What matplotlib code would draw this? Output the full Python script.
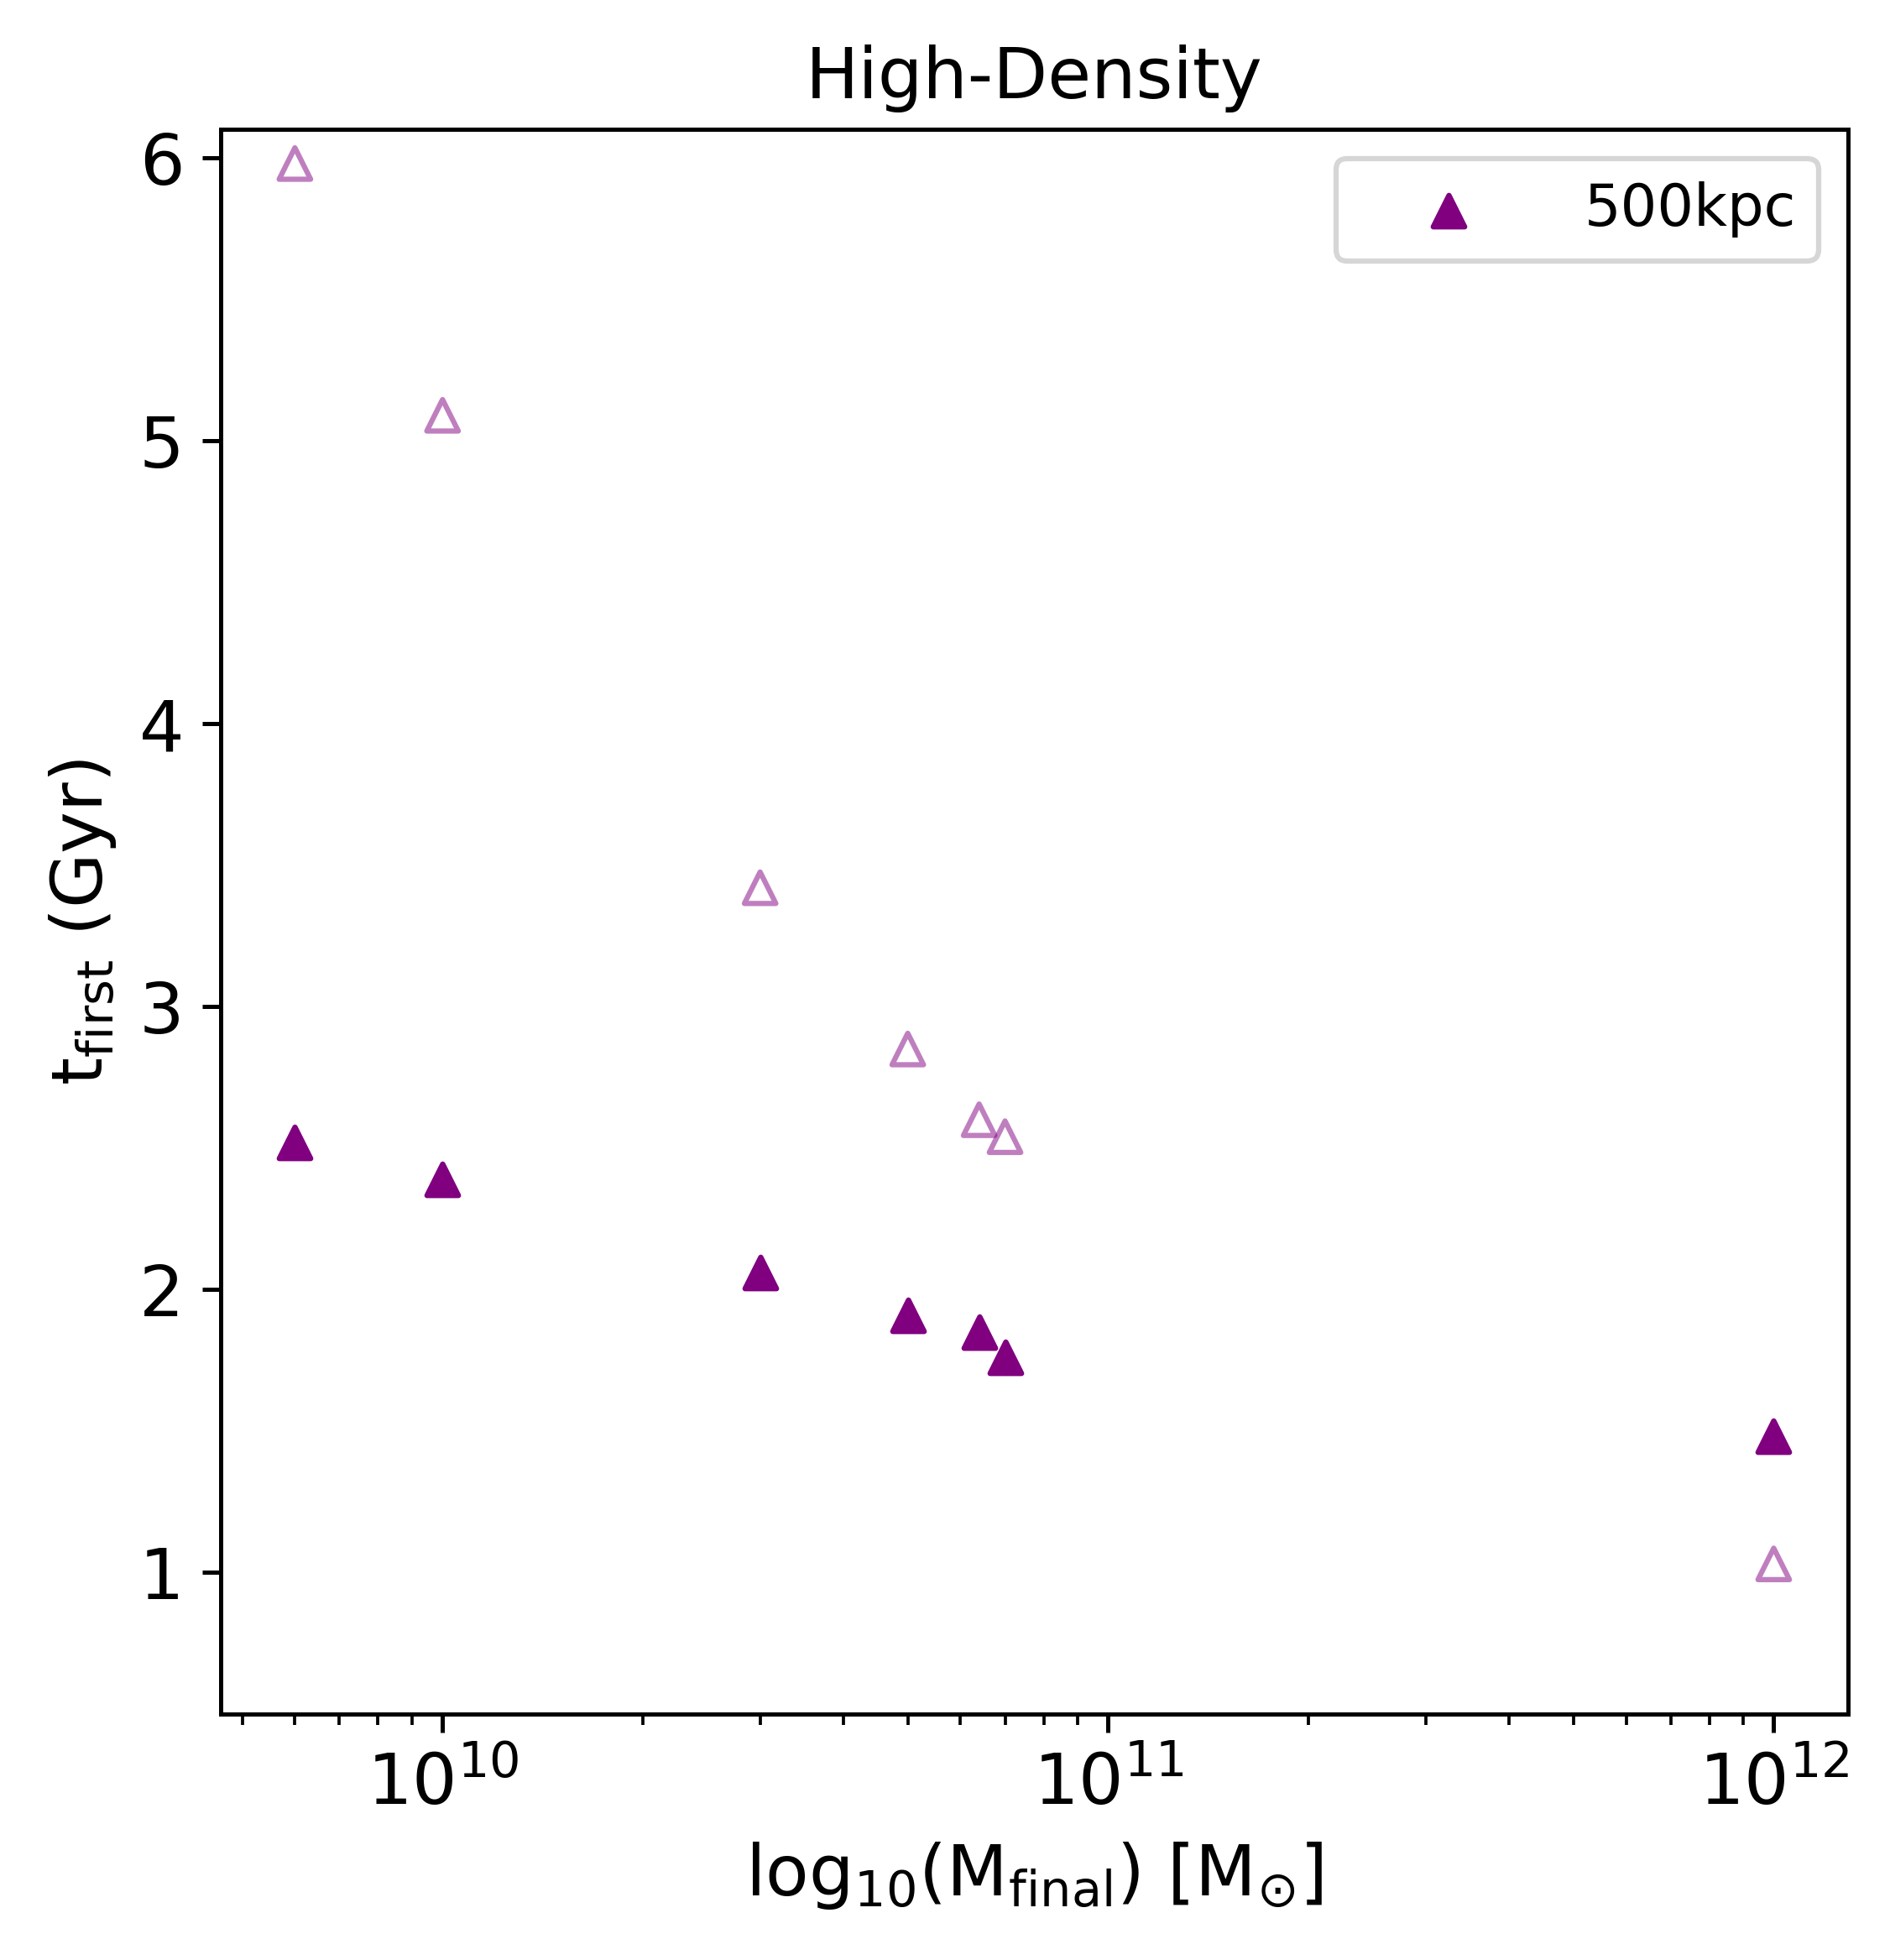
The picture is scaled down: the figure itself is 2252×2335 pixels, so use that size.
import numpy as np
import matplotlib
matplotlib.use('Agg')
import matplotlib.pyplot as plt

# halo final masses (Msun)
m_final = [6e9, 1e10, 3e10, 5e10, 6.4e10, 7e10, 1e12]
# first infall time, 500 kpc (filled) and the open markers
t_first_500 = [2.52, 2.39, 2.06, 1.91, 1.85, 1.76, 1.48]
t_first_open = [5.98, 5.09, 3.42, 2.85, 2.60, 2.54, 1.03]

fs = 13.5
fig = plt.figure(figsize=(2252/450, 2335/450), dpi=450)
ax = fig.add_axes([0.1169, 0.1256, 0.8607, 0.8083])

ax.scatter(m_final, t_first_open, marker='^', facecolors='none',
           edgecolors='purple', alpha=0.5, linewidths=1.0)
ax.scatter(m_final, t_first_500, marker='^', color='purple', label='500kpc')

ax.set_xscale('log')
ax.set_ylim(0.5, 6.1)
ax.set_xlabel(r'log$_{10}$(M$_{\mathrm{final}}$) [M$_{\odot}$]', fontsize=fs)
ax.set_ylabel(r't$_{\mathrm{first}}$ (Gyr)', fontsize=fs)
ax.set_title('High-Density', fontsize=fs)
ax.tick_params(labelsize=fs)
ax.legend(loc='upper right', fontsize=11, handlelength=3.1)

fig.savefig('out.png', dpi=450)
